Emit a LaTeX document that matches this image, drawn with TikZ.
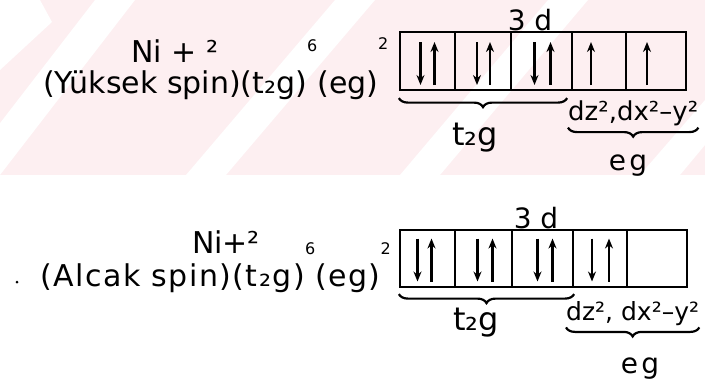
\documentclass[tikz,border=0pt]{standalone}
\usepackage{fontspec}
\setmainfont{DejaVu Sans}
\usetikzlibrary{calc,arrows.meta,decorations.pathreplacing}
\definecolor{wmpink}{HTML}{FDEFF1}
\newcommand{\hsup}[2][1.05em]{\raisebox{#1}{\fontsize{16}{16}\selectfont #2}}

\begin{document}
\begin{tikzpicture}[x=1pt,y=-1pt,
    every node/.style={inner sep=0pt,font=\fontsize{30}{32}\selectfont},
    cell/.style={draw,line width=2.2pt,minimum width=#1,minimum height=58pt},
    spin/.style={line width=2.2pt,-{Stealth[length=10pt,width=8pt]}},
    brace/.style={decorate,decoration={brace,mirror,amplitude=9pt},line width=2.2pt},
    lbl/.style={font=\fontsize{28}{30}\selectfont}]
  \useasboundingbox (0,0) rectangle (705,383);
  % watermark band
  \fill[wmpink] (0,0) rectangle (705,175);
  \fill[white] (0,0) -- (40,0) -- (52,22) -- (0,70) -- cycle;
  \fill[white] (-40,175) -- (0,175) -- (135,0) -- (95,0) -- cycle;
  \fill[white] (186,175) -- (226,175) -- (375,0) -- (335,0) -- cycle;
  \fill[white] (400,175) -- (440,175) -- (588,0) -- (548,0) -- cycle;
  \fill[white] (640,175) -- (680,175) -- (705,145) -- (705,100) -- cycle;

  % high spin
  \node[anchor=base] (ni1) at (175,62) {Ni + ²};
  \node[anchor=base west] (hs) at (43,93) {(Yüksek spin)(t₂g)\hsup[1.4em]{6}(eg)\hsup[1.45em]{2}};
  \node[cell=55pt] (a1) at (427.5,61) {};
  \node[cell=56pt] (a2) at (483,61) {};
  \node[cell=61pt] (a3) at (541.5,61) {};
  \node[cell=54pt] (a4) at (599,61) {};
  \node[cell=60pt] (a5) at (656,61) {};
  \node[lbl,anchor=base] (d1) at (530,30) {3 d};
  \draw[spin] ($(a1)+(-7,-19)$) -- ($(a1)+(-7,24)$);
  \draw[spin] ($(a1)+(7,24)$) -- ($(a1)+(7,-19)$);
  \draw[spin] ($(a2)+(-6,-19)$) -- ($(a2)+(-6,24)$);
  \draw[spin] ($(a2)+(7,24)$) -- ($(a2)+(7,-19)$);
  \draw[spin] ($(a3)+(-7,-19)$) -- ($(a3)+(-7,24)$);
  \draw[spin] ($(a3)+(9,24)$) -- ($(a3)+(9,-19)$);
  \draw[spin] ($(a4)+(-8,24)$) -- ($(a4)+(-8,-19)$);
  \draw[spin] ($(a5)+(-9,24)$) -- ($(a5)+(-9,-19)$);
  \draw[brace] ($(a1.south west)+(0,7)$) -- ($(a3.south east)+(-6,7)$);
  \node[lbl,anchor=base,font=\fontsize{32}{34}\selectfont] (t1) at (475,145) {t₂g};
  \node[lbl,anchor=base west,font=\fontsize{26}{28}\selectfont] (dz1) at (568,120) {dz²,dx²–y²};
  \draw[brace] ($(dz1.south west)+(0,2)$) -- ($(dz1.south east)+(0,2)$);
  \node[lbl,anchor=base] (e1) at (628,170) {\addfontfeature{LetterSpace=12}eg};

  % low spin
  \fill (17,282) circle (1.5);
  \node[anchor=base] (ni2) at (226,253) {Ni+²};
  \node[anchor=base west] (ls) at (40,286) {\addfontfeature{LetterSpace=5}(Alcak spin)(t₂g)\hsup{6}(eg)\hsup{2}};
  \node[cell=55pt,minimum height=57pt] (b1) at (427.5,258.5) {};
  \node[cell=57pt,minimum height=57pt] (b2) at (483.5,258.5) {};
  \node[cell=61pt,minimum height=57pt] (b3) at (542.5,258.5) {};
  \node[cell=54pt,minimum height=57pt] (b4) at (600,258.5) {};
  \node[cell=60pt,minimum height=57pt] (b5) at (657,258.5) {};
  \node[lbl,anchor=base] (d2) at (536,228) {3 d};
  \draw[spin] ($(b1)+(-10,-20)$) -- ($(b1)+(-10,23)$);
  \draw[spin] ($(b1)+(4,23)$) -- ($(b1)+(4,-20)$);
  \draw[spin] ($(b2)+(-6,-20)$) -- ($(b2)+(-6,23)$);
  \draw[spin] ($(b2)+(9,23)$) -- ($(b2)+(9,-20)$);
  \draw[spin] ($(b3)+(-5,-20)$) -- ($(b3)+(-5,23)$);
  \draw[spin] ($(b3)+(10,23)$) -- ($(b3)+(10,-20)$);
  \draw[spin] ($(b4)+(-8,-20)$) -- ($(b4)+(-8,23)$);
  \draw[spin] ($(b4)+(9,23)$) -- ($(b4)+(9,-20)$);
  \draw[brace] ($(b1.south west)+(0,6)$) -- ($(b3.south east)+(0,6)$);
  \node[lbl,anchor=base,font=\fontsize{32}{34}\selectfont] (t2) at (476,330) {t₂g};
  \node[lbl,anchor=base west,font=\fontsize{25}{27}\selectfont] (dz2) at (566,320) {dz², dx²–y²};
  \draw[brace] ($(dz2.south west)+(0,2)$) -- ($(dz2.south east)+(0,2)$);
  \node[lbl,anchor=base] (e2) at (640,373) {\addfontfeature{LetterSpace=12}eg};
\end{tikzpicture}
\end{document}
